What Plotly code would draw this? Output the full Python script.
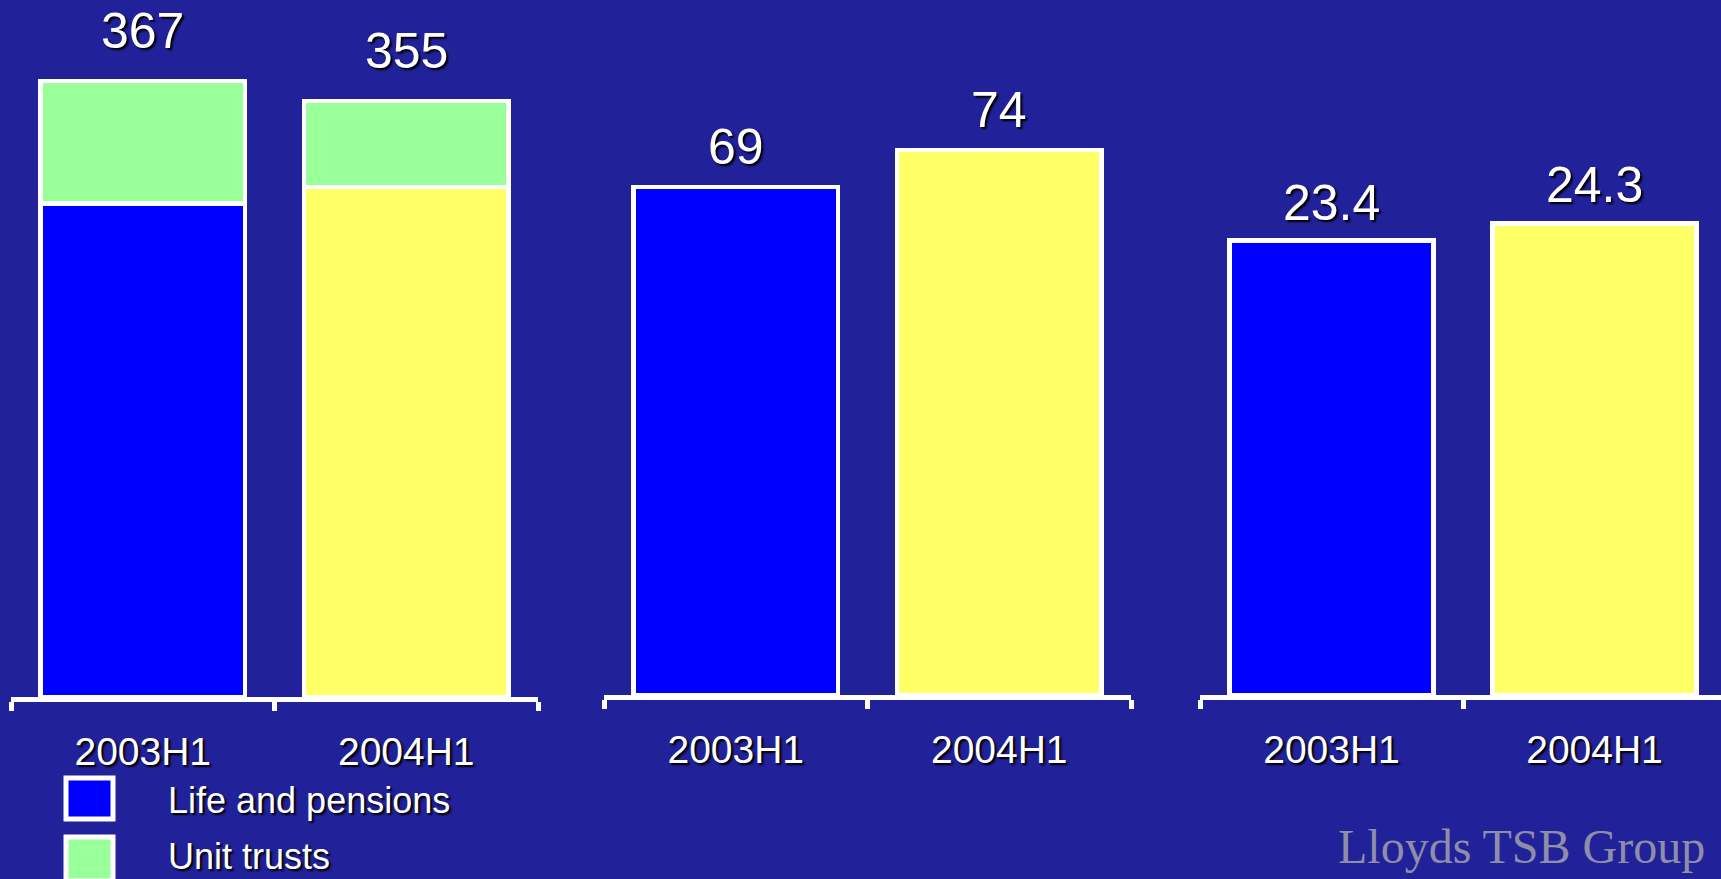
import plotly.graph_objects as go

# ---- data ----
categories = ["2003H1", "2004H1"]
life_pensions = [294, 304]
unit_trusts = [73, 51]
panel2_values = [69, 74]
panel3_values = [23.4, 24.3]
panel3_labels = ["23.4", "24.3"]
series_names = ["Life and pensions", "Unit trusts"]
watermark = "Lloyds TSB Group"

# ---- style ----
W, H = 1721, 879
BLUE = "#0000FF"
YELLOW = "#FFFF66"
GREEN = "#99FF99"
BG = "#21219a"
WHITE = "#FFFFFF"
SHADOW = "2px 2px 2px #000000"
FONT = "Liberation Sans, Arial, sans-serif"
year_colors = [BLUE, YELLOW]
line = dict(color=WHITE, width=4.5)


def px(x):
    return x / W


def py(y):
    return 1 - y / H


fig = go.Figure()

# Panel 1 : stacked
fig.add_trace(go.Bar(x=categories, y=life_pensions, name=series_names[0],
                     marker=dict(color=year_colors, line=line),
                     xaxis="x", yaxis="y", showlegend=False))
fig.add_trace(go.Bar(x=categories, y=unit_trusts, name=series_names[1],
                     marker=dict(color=GREEN, line=line),
                     xaxis="x", yaxis="y", showlegend=False))
# Panel 2
fig.add_trace(go.Bar(x=categories, y=panel2_values,
                     marker=dict(color=year_colors, line=line),
                     xaxis="x2", yaxis="y2", showlegend=False))
# Panel 3
fig.add_trace(go.Bar(x=categories, y=panel3_values,
                     marker=dict(color=year_colors, line=line),
                     xaxis="x3", yaxis="y3", showlegend=False))

totals = [a + b for a, b in zip(life_pensions, unit_trusts)]

annotations = []
label_font = dict(family=FONT, size=50, color=WHITE, shadow=SHADOW)
for c, t in zip(categories, totals):
    annotations.append(dict(x=c, y=t, xref="x", yref="y", text=str(t),
                            showarrow=False, yanchor="middle", yshift=50,
                            font=label_font))
for c, v in zip(categories, panel2_values):
    annotations.append(dict(x=c, y=v, xref="x2", yref="y2", text=str(v),
                            showarrow=False, yanchor="middle", yshift=40,
                            font=label_font))
for c, v, t in zip(categories, panel3_values, panel3_labels):
    annotations.append(dict(x=c, y=v, xref="x3", yref="y3", text=t,
                            showarrow=False, yanchor="middle", yshift=38,
                            font=label_font))

# Legend (manual, large boxes)
shapes = []
legend_rows = [(778, 819, BLUE, 800), (837, 881, GREEN, 856)]
for (y0, y1, col, ty), name in zip(legend_rows, series_names):
    shapes.append(dict(type="rect", xref="paper", yref="paper",
                       x0=px(66), x1=px(113), y0=py(y1), y1=py(y0),
                       fillcolor=col, line=dict(color=WHITE, width=5)))
    annotations.append(dict(x=px(166), y=py(ty), xref="paper", yref="paper",
                            text=name, showarrow=False, xanchor="left",
                            yanchor="middle",
                            font=dict(family=FONT, size=36, color=WHITE,
                                      shadow=SHADOW)))

annotations.append(dict(x=px(1336), y=py(846), xref="paper", yref="paper",
                        text=watermark, showarrow=False, xanchor="left",
                        yanchor="middle",
                        font=dict(family="Liberation Serif, Times New Roman, serif",
                                  size=48, color="#8e8ea8")))

xaxis_common = dict(type="category", showline=True, linecolor=WHITE,
                    linewidth=4.5, ticks="outside", tickson="boundaries",
                    ticklen=9, tickwidth=4.5, tickcolor=WHITE,
                    showgrid=False, zeroline=False, fixedrange=True,
                    ticklabelstandoff=16,
                    tickfont=dict(family=FONT, size=39, color=WHITE,
                                  shadow=SHADOW))
yaxis_common = dict(visible=False, showgrid=False, zeroline=False,
                    fixedrange=True)

fig.update_layout(
    width=W, height=H,
    margin=dict(l=0, r=0, t=0, b=0),
    paper_bgcolor=BG, plot_bgcolor="rgba(0,0,0,0)",
    barmode="stack", bargap=0.225,
    xaxis=dict(domain=[px(11), px(538)], range=[-0.5, 1.5], anchor="y",
               **xaxis_common),
    xaxis2=dict(domain=[px(604), px(1131)], range=[-0.5, 1.5], anchor="y2",
                **xaxis_common),
    xaxis3=dict(domain=[px(1200), 1.0], range=[-0.5, 1.481], anchor="y3",
                **xaxis_common),
    yaxis=dict(domain=[py(697), 1.0], range=[0, 415.3], anchor="x",
               **yaxis_common),
    yaxis2=dict(domain=[py(695), 1.0], range=[0, 94.4], anchor="x2",
                **yaxis_common),
    yaxis3=dict(domain=[py(695), 1.0], range=[0, 35.8], anchor="x3",
                **yaxis_common),
    annotations=annotations,
    shapes=shapes,
)

fig.write_html("out.html")
